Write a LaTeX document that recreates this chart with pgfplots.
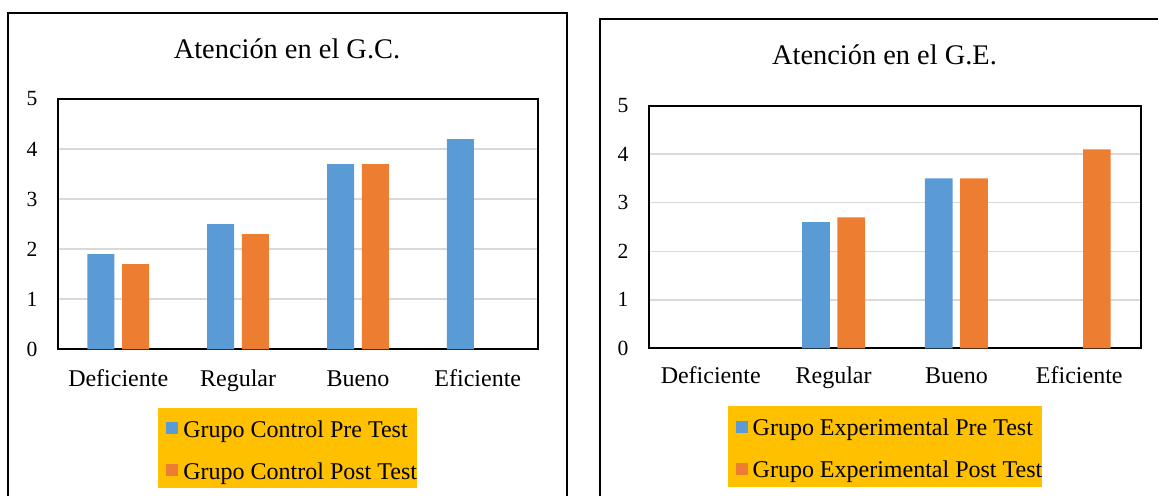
\documentclass[border=0pt]{standalone}
\usepackage{fontspec}
\setmainfont{Liberation Serif}
\usepackage{pgfplots}
\pgfplotsset{compat=1.18}
\definecolor{xblue}{HTML}{5B9BD5}
\definecolor{xorange}{HTML}{ED7D31}
\definecolor{xgold}{HTML}{FFC000}
\definecolor{xgrid}{HTML}{D9D9D9}
\pgfplotsset{
  excelstyle/.style={
    scale only axis,
    ymin=0, ymax=5, ytick={0,1,2,3,4,5},
    xmin=-0.5, xmax=3.5, xtick={0,1,2,3},
    xticklabels={Deficiente,Regular,Bueno,Eficiente},
    major tick length=0pt,
    ymajorgrids, grid style={xgrid, line width=0.75pt},
    axis line style={line width=1pt, black},
    /pgf/number format/assume math mode=true,
    yticklabel style={font=\fontsize{10.8pt}{12pt}\selectfont, anchor=east, inner sep=0pt, xshift=-10.3pt},
    xticklabel style={font=\fontsize{12pt}{14pt}\selectfont, anchor=base, inner sep=0pt},
    every axis title shift=0pt,
    title style={font=\fontsize{14.2pt}{16pt}\selectfont, anchor=base, inner sep=0pt},
    legend style={fill=xgold, draw=none, inner xsep=0pt, inner ysep=2pt, anchor=north west,
      font=\fontsize{12pt}{14pt}\selectfont, row sep=5.85pt,
      nodes={inner sep=0pt, text height=12.65pt, text depth=2.5pt}},
    legend cell align=left,
    legend image code/.code={\path (0pt,0pt); \fill[##1] (4pt,-3.5pt) rectangle (10pt,2.5pt); \path (12.5pt,0pt);},
  }
}
\begin{document}
\begin{tikzpicture}
\useasboundingbox (0pt,0pt) rectangle (579pt,247.5pt);
% Left chart
\begin{axis}[excelstyle,
  at={(29.15pt,72.85pt)}, anchor=south west,
  width=239.7pt, height=125.15pt,
  title={Atención en el G.C.},
  title style={at={(0.477,1.1626)}},
  xticklabel style={yshift=-18.35pt},
  legend style={at={(0.208,-0.2333)}},
]
\addplot[ybar, fill=xblue, draw=none, bar width=13.5pt, bar shift=-8.7pt]
  coordinates {(0,1.9) (1,2.5) (2,3.7) (3,4.2)};
\addlegendentry{Grupo Control Pre Test}
\addplot[ybar, fill=xorange, draw=none, bar width=13.5pt, bar shift=8.7pt]
  coordinates {(0,1.7) (1,2.3) (2,3.7)};
\addlegendentry{Grupo Control Post Test}
\end{axis}
% Right chart
\begin{axis}[excelstyle,
  at={(324.65pt,73.35pt)}, anchor=south west,
  width=245.7pt, height=121.3pt,
  title={Atención en el G.E.},
  title style={at={(0.4786,1.1678)}},
  xticklabel style={yshift=-17.35pt},
  legend style={at={(0.1587,-0.2378)}},
]
\addplot[ybar, fill=xblue, draw=none, bar width=13.85pt, bar shift=-8.8pt]
  coordinates {(1,2.6) (2,3.5)};
\addlegendentry{Grupo Experimental Pre Test}
\addplot[ybar, fill=xorange, draw=none, bar width=13.85pt, bar shift=8.8pt]
  coordinates {(1,2.7) (2,3.5) (3,4.1)};
\addlegendentry{Grupo Experimental Post Test}
\end{axis}
% panel frames
\draw[line width=1pt] (4.15pt,-10pt) rectangle (283.5pt,241.15pt);
\draw[line width=1pt] (300pt,-10pt) rectangle (600pt,238pt);
\end{tikzpicture}
\end{document}
